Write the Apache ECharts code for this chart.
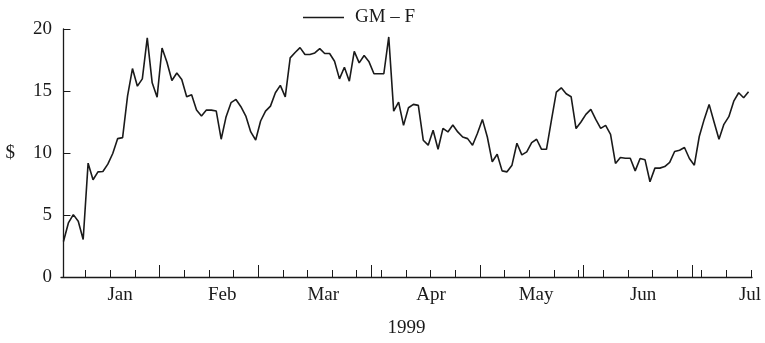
<!DOCTYPE html>
<html>
<head>
<meta charset="utf-8">
<title>GM – F spread, 1999</title>
<script src="https://cdn.jsdelivr.net/npm/echarts@6/dist/echarts.min.js"></script>
<style>
  html, body { margin: 0; padding: 0; background: #fff; }
  #chart { width: 765px; height: 343px; }
</style>
</head>
<body>
<div id="chart"></div>
<script>
// Daily (weekday) price difference GM – F in dollars, starting Mon 4 Jan 1999.
const spread = [
  2.86, 4.36, 5.03, 4.50, 3.02, 9.18, 7.84, 8.48, 8.51, 9.10,
  9.96, 11.16, 11.24, 14.59, 16.81, 15.39, 15.98, 19.28, 15.66, 14.50,
  18.47, 17.32, 15.85, 16.45, 15.93, 14.53, 14.70, 13.46, 12.98, 13.46,
  13.46, 13.38, 11.11, 12.93, 14.06, 14.32, 13.73, 12.98, 11.70, 11.05,
  12.58, 13.38, 13.78, 14.86, 15.45, 14.53, 17.67, 18.10, 18.50, 17.94,
  17.94, 18.07, 18.42, 18.02, 18.02, 17.40, 15.98, 16.92, 15.79, 18.20,
  17.27, 17.86, 17.35, 16.39, 16.39, 16.39, 19.36, 13.38, 14.10, 12.23,
  13.65, 13.92, 13.84, 11.03, 10.63, 11.83, 10.30, 11.99, 11.70, 12.26,
  11.70, 11.29, 11.16, 10.63, 11.59, 12.71, 11.29, 9.29, 9.90, 8.56,
  8.48, 9.02, 10.79, 9.85, 10.09, 10.84, 11.11, 10.30, 10.30, 12.63,
  14.91, 15.26, 14.78, 14.54, 11.97, 12.50, 13.12, 13.52, 12.71, 11.99,
  12.23, 11.51, 9.16, 9.64, 9.58, 9.58, 8.56, 9.56, 9.45, 7.68,
  8.78, 8.78, 8.91, 9.24, 10.12, 10.22, 10.44, 9.56, 9.02, 11.33,
  12.71, 13.92, 12.50, 11.11, 12.31, 12.93, 14.18, 14.86, 14.46, 14.94
];

// Month names and where they sit along the weekday index
const monthNames = ['Jan', 'Feb', 'Mar', 'Apr', 'May', 'Jun', 'Jul'];
const monthLabelAt = [11.5, 32.2, 52.7, 74.6, 95.9, 117.6, 139.3];

// Month boundaries (between the last weekday of one month and the first of the next)
const monthTicks = [19.5, 39.5, 62.5, 84.5, 105.5, 127.5];

// Weekly ticks, between each Friday and the following Monday
const weekTicks = [];
for (let w = 4.5; w <= 139.5; w += 5) weekTicks.push(w);

const yTicks = [0, 5, 10, 15, 20];

const seriesName = 'GM – F';
const yearLabel = '1999';
const yName = '$';

const points = spread.map((v, i) => [i, v]);

const FONT = 'Liberation Serif, Times New Roman, serif';
const FS = 19;
const INK = '#1a1a1a';
const XMIN = -0.5, XMAX = 139.7;

const chart = echarts.init(document.getElementById('chart'), null, { renderer: 'canvas' });

chart.setOption({
  animation: false,
  backgroundColor: '#ffffff',
  textStyle: { fontFamily: FONT, color: INK },
  legend: {
    left: 298,
    top: 3,
    itemWidth: 41,
    itemHeight: 1.6,
    icon: 'rect',
    itemStyle: { color: INK, borderWidth: 0 },
    textStyle: { fontFamily: FONT, fontSize: FS, color: INK, padding: [0, 0, 0, 6] },
    data: [seriesName]
  },
  grid: { left: 61, right: 13, top: 29, bottom: 65, containLabel: false },
  xAxis: [
    {
      type: 'value',
      position: 'bottom',
      min: XMIN,
      max: XMAX,
      name: yearLabel,
      nameLocation: 'middle',
      nameGap: 42,
      nameTextStyle: { fontFamily: FONT, fontSize: FS, color: INK },
      axisLine: { show: true, lineStyle: { color: INK, width: 1.3 } },
      axisTick: { show: true, inside: true, length: 7, customValues: weekTicks, lineStyle: { color: INK, width: 1 } },
      axisLabel: {
        show: true,
        margin: 9,
        customValues: monthLabelAt,
        fontFamily: FONT,
        fontSize: FS,
        color: INK,
        formatter: function (v) {
          const k = monthLabelAt.findIndex(p => Math.abs(p - v) < 1e-6);
          return k >= 0 ? monthNames[k] : '';
        }
      },
      splitLine: { show: false }
    },
    {
      type: 'value',
      position: 'bottom',
      offset: 0,
      min: XMIN,
      max: XMAX,
      axisLine: { show: false },
      axisTick: { show: true, inside: true, length: 12, customValues: monthTicks, lineStyle: { color: INK, width: 1 } },
      axisLabel: { show: false },
      splitLine: { show: false }
    }
  ],
  yAxis: {
    type: 'value',
    min: yTicks[0],
    max: yTicks[yTicks.length - 1],
    interval: 5,
    name: yName,
    nameLocation: 'middle',
    nameRotate: 0,
    nameGap: 46,
    nameTextStyle: { fontFamily: FONT, fontSize: FS, color: INK },
    axisLine: { show: true, lineStyle: { color: INK, width: 1.3 } },
    axisTick: { show: true, inside: true, length: 7, lineStyle: { color: INK, width: 1 } },
    axisLabel: { margin: 9, fontFamily: FONT, fontSize: FS, color: INK },
    splitLine: { show: false }
  },
  series: [
    {
      name: seriesName,
      type: 'line',
      xAxisIndex: 0,
      data: points,
      symbol: 'none',
      lineStyle: { color: INK, width: 1.6 },
      itemStyle: { color: INK }
    }
  ]
});
</script>
</body>
</html>
